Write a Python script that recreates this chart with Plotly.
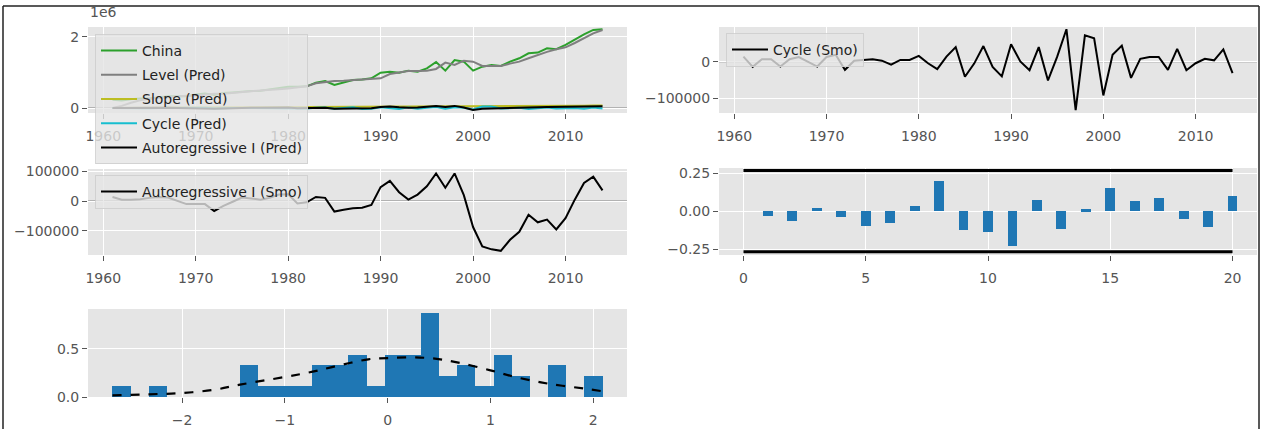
import plotly.graph_objects as go

# ---------------- data ----------------
years = list(range(1961, 2015))

china = [230e3, 215e3, 250e3, 270e3, 265e3, 305e3, 330e3, 330e3, 330e3, 380e3,
         405e3, 370e3, 420e3, 440e3, 470e3, 480e3, 485e3, 520e3, 545e3, 600e3,
         600e3, 610e3, 714e3, 760e3, 648e3, 720e3, 789e3, 800e3, 836e3, 995e3,
         1023e3, 995e3, 1052e3, 1023e3, 1117e3, 1296e3, 1052e3, 1352e3, 1305e3, 1052e3,
         1164e3, 1211e3, 1183e3, 1305e3, 1399e3, 1540e3, 1559e3, 1681e3, 1653e3, 1775e3,
         1934e3, 2075e3, 2197e3, 2216e3]

level_pred = [0, 60e3, 150e3, 220e3, 260e3, 280e3, 310e3, 335e3, 345e3, 350e3,
              380e3, 400e3, 400e3, 430e3, 450e3, 475e3, 490e3, 500e3, 525e3, 550e3,
              590e3, 610e3, 695e3, 730e3, 760e3, 770e3, 789e3, 810e3, 820e3, 836e3,
              958e3, 1000e3, 1042e3, 1045e3, 1052e3, 1100e3, 1277e3, 1211e3, 1333e3, 1305e3,
              1183e3, 1183e3, 1183e3, 1250e3, 1305e3, 1400e3, 1493e3, 1580e3, 1653e3, 1709e3,
              1830e3, 1963e3, 2100e3, 2197e3]

slope_pred = [0, 5e3, 8e3, 10e3, 12e3, 13e3, 14e3, 15e3, 15e3, 16e3,
              17e3, 18e3, 18e3, 19e3, 20e3, 20e3, 21e3, 21e3, 22e3, 23e3,
              23e3, 24e3, 25e3, 26e3, 26e3, 27e3, 27e3, 28e3, 28e3, 29e3,
              30e3, 31e3, 32e3, 33e3, 34e3, 35e3, 36e3, 37e3, 38e3, 39e3,
              40e3, 40e3, 41e3, 42e3, 44e3, 46e3, 49e3, 52e3, 55e3, 58e3,
              62e3, 66e3, 70e3, 74e3]

cycle_pred = [0, -5e3, 4e3, 3e3, -6e3, 4e3, 6e3, 0, -6e3, 6e3,
              9e3, -10e3, 2e3, 3e3, 3e3, 1e3, -4e3, 2e3, 2e3, 8e3,
              -2e3, -10e3, 7e3, 18e3, -19e3, -2e3, 20e3, -25e3, -18e3, 22e3,
              0, -30e3, 18e3, -22e3, 6e3, 30e3, -20e3, 25e3, 10e3, -40e3,
              40e3, 45e3, -15e3, 4e3, 6e3, -25e3, -8e3, 15e3, -10e3, -2e3,
              4e3, -20e3, 15e3, -12e3]

ar_pred = [0, 5e3, 5e3, 6e3, 10e3, 12e3, 11e3, 2e3, -5e3, -6e3,
           -6e3, -20e3, -10e3, 0, 8e3, 7e3, 5e3, 9e3, 16e3, 18e3,
           -4e3, -2e3, 10e3, 9e3, -20e3, -18e3, -14e3, -12e3, -8e3, 30e3,
           45e3, 22e3, 6e3, 16e3, 34e3, 60e3, 32e3, 60e3, 14e3, -55e3,
           -20e3, -10e3, 5e3, 10e3, 15e3, 20e3, 25e3, 28e3, 30e3, 32e3,
           38e3, 45e3, 52e3, 50e3]

cycle_smo = [14e3, -14e3, 7e3, 7e3, -13e3, 7e3, 13e3, 0, -13e3, 13e3,
             19e3, -22e3, 3e3, 5e3, 7e3, 3e3, -8e3, 5e3, 5e3, 16e3,
             -4e3, -20e3, 14e3, 40e3, -41e3, -5e3, 43e3, -14e3, -40e3, 48e3,
             1e3, -23e3, 40e3, -51e3, 14e3, 89e3, -132e3, 72e3, 64e3, -92e3,
             19e3, 44e3, -44e3, 8e3, 13e3, 13e3, -22e3, 35e3, -23e3, -4e3,
             8e3, 4e3, 34e3, -31e3]

ar_smo = [14e3, 5e3, 5e3, 6e3, 11e3, 14e3, 12e3, 0, -10e3, -10e3,
          -10e3, -33e3, -16e3, -2e3, 12e3, 9e3, 5e3, 11e3, 22e3, 23e3,
          -8e3, -4e3, 14e3, 11e3, -35e3, -29e3, -24e3, -22e3, -13e3, 47e3,
          68e3, 30e3, 5e3, 22e3, 50e3, 93e3, 45e3, 93e3, 20e3, -87e3,
          -152e3, -162e3, -167e3, -130e3, -103e3, -46e3, -71e3, -62e3, -95e3, -57e3,
          5e3, 61e3, 82e3, 36e3]

# residual correlogram
acf_lags = list(range(1, 21))
acf_vals = [-0.030, -0.063, 0.017, -0.039, -0.096, -0.078, 0.035, 0.200, -0.126, -0.141,
            -0.230, 0.074, -0.120, 0.011, 0.152, 0.065, 0.089, -0.054, -0.104, 0.096]
acf_conf = 0.267
acf_span = [0, 20]

# histogram of standardized residuals (27 bins)
hist_lo, hist_hi = -2.678, 2.091
hist_counts = [1, 0, 1, 0, 0, 0, 0, 3, 1, 1, 1, 3, 3, 4, 1, 4, 4, 8, 2, 3, 1, 4, 2, 0, 3, 0, 2]
# fitted density curve
dens_x = [-2.678, -2.33, -2.0, -1.68, -1.437, -1.0, -0.73, -0.51, -0.188, 0.0, 0.233,
          0.46, 0.688, 1.0, 1.238, 1.563, 1.92, 2.091]
dens_y = [0.017, 0.028, 0.041, 0.076, 0.128, 0.207, 0.262, 0.317, 0.39, 0.403, 0.41,
          0.397, 0.355, 0.276, 0.207, 0.138, 0.086, 0.059]

# ---------------- layout helpers ----------------
W, H = 1262, 429
BG = "#E5E5E5"
TICK = "#555555"
FONT = "DejaVu Sans"


def xdom(a, b):
    return [a / W, b / W]


def ydom(top, bottom):
    return [1 - bottom / H, 1 - top / H]


fig = go.Figure()

n_bins = len(hist_counts)
bw = (hist_hi - hist_lo) / n_bins
bin_centers = [hist_lo + (i + 0.5) * bw for i in range(n_bins)]
n_obs = sum(hist_counts)
density = [c / (n_obs * bw) for c in hist_counts]

# top-left: observed series with predicted components
series = [
    ("China", china, "#2ca02c"),
    ("Level (Pred)", level_pred, "#7f7f7f"),
    ("Slope (Pred)", slope_pred, "#bcbd22"),
    ("Cycle (Pred)", cycle_pred, "#17becf"),
    ("Autoregressive I (Pred)", ar_pred, "#000000"),
]
for name, vals, col in series:
    fig.add_trace(go.Scatter(x=years, y=vals, mode="lines", name=name,
                             line=dict(color=col, width=2), xaxis="x", yaxis="y",
                             legend="legend", legendgroup=name))

fig.add_trace(go.Scatter(x=years, y=cycle_smo, mode="lines", name="Cycle (Smo)",
                         line=dict(color="black", width=2), xaxis="x2", yaxis="y2",
                         legend="legend2"))

fig.add_trace(go.Scatter(x=years, y=ar_smo, mode="lines", name="Autoregressive I (Smo)",
                         line=dict(color="black", width=2), xaxis="x3", yaxis="y3",
                         legend="legend3"))

fig.add_trace(go.Bar(x=acf_lags, y=acf_vals, width=0.4, marker=dict(color="#1f77b4", line_width=0),
                     xaxis="x4", yaxis="y4", showlegend=False))
for sgn in (1, -1):
    fig.add_trace(go.Scatter(x=acf_span, y=[sgn * acf_conf] * 2, mode="lines",
                             line=dict(color="black", width=3), xaxis="x4", yaxis="y4",
                             showlegend=False))

fig.add_trace(go.Bar(x=bin_centers, y=density, width=bw, marker=dict(color="#1f77b4", line_width=0),
                     xaxis="x5", yaxis="y5", showlegend=False))
fig.add_trace(go.Scatter(x=dens_x, y=dens_y, mode="lines",
                         line=dict(color="black", width=2.2, dash="dash", shape="spline"),
                         xaxis="x5", yaxis="y5", showlegend=False))

ax_common = dict(showgrid=True, gridcolor="white", gridwidth=1.2, zeroline=False,
                 ticks="outside", ticklen=5, tickcolor=TICK, tickwidth=1, automargin=False,
                 tickfont=dict(family=FONT, size=14, color=TICK), showline=False)
xax_common = dict(ax_common, ticklen=5, ticklabelstandoff=5)

year_ticks = [1960, 1970, 1980, 1990, 2000, 2010]
COL_L = (88, 627)
COL_R = (719, 1257)

layout = dict(
    width=W, height=H, autosize=False, margin=dict(l=0, r=0, t=0, b=0, pad=0, autoexpand=False),
    paper_bgcolor="white", plot_bgcolor=BG, bargap=0, barmode="overlay",
    font=dict(family=FONT, size=14, color="#222"),
    xaxis=dict(xax_common, domain=xdom(*COL_L), range=[1958.35, 2016.65], tickvals=year_ticks, anchor="y"),
    yaxis=dict(ax_common, domain=ydom(27, 113), range=[-0.14e6, 2.28e6], tickvals=[0, 2e6],
               ticktext=["0", "2"], anchor="x"),
    xaxis2=dict(xax_common, domain=xdom(*COL_R), range=[1958.35, 2016.65], tickvals=year_ticks, anchor="y2"),
    yaxis2=dict(ax_common, domain=ydom(27, 113), range=[-140e3, 95e3], tickvals=[-100000, 0],
                ticktext=["\u2212100000", "0"], anchor="x2"),
    xaxis3=dict(xax_common, domain=xdom(*COL_L), range=[1958.35, 2016.65], tickvals=year_ticks, anchor="y3"),
    yaxis3=dict(ax_common, domain=ydom(169, 255), range=[-181e3, 108e3], tickvals=[-100000, 0, 100000],
                ticktext=["\u2212100000", "0", "100000"], anchor="x3"),
    xaxis4=dict(xax_common, domain=xdom(*COL_R), range=[-1, 21], tickvals=[0, 5, 10, 15, 20], anchor="y4"),
    yaxis4=dict(ax_common, domain=ydom(168, 255), range=[-0.289, 0.283], tickvals=[-0.25, 0, 0.25],
                ticktext=["\u22120.25", "0.00", "0.25"], anchor="x4"),
    xaxis5=dict(xax_common, domain=xdom(*COL_L), range=[-2.916, 2.329], tickvals=[-2, -1, 0, 1, 2],
                ticktext=["\u22122", "\u22121", "0", "1", "2"], anchor="y5"),
    yaxis5=dict(ax_common, domain=ydom(309, 397), range=[0, 0.91], tickvals=[0, 0.5],
                ticktext=["0.0", "0.5"], anchor="x5"),
)

leg_common = dict(bgcolor="rgba(229,229,229,0.8)", bordercolor="rgba(204,204,204,0.8)", borderwidth=1,
                  font=dict(family=FONT, size=14, color="#222"), xanchor="left", yanchor="top",
                  itemwidth=36)
layout["legend"] = dict(leg_common, x=95 / W, y=1 - 34 / H, tracegroupgap=3)
layout["legend2"] = dict(leg_common, x=726 / W, y=1 - 33 / H)
layout["legend3"] = dict(leg_common, x=95 / W, y=1 - 175 / H)

# zero reference lines
shapes = []
for xr, yr in (("x", "y"), ("x2", "y2"), ("x3", "y3")):
    shapes.append(dict(type="line", xref=f"{xr} domain", yref=yr, x0=0, x1=1, y0=0, y1=0,
                       line=dict(color="#808080", width=1.2), layer="below"))
# outer frame: left, top and right edges
fx0, fx1, fy1 = 3 / W, 1259 / W, 1 - 6 / H
frame = dict(color="#222", width=1.5)
for x0, y0, x1, y1 in ((fx0, 0, fx0, fy1), (fx0, fy1, fx1, fy1), (fx1, 0, fx1, fy1)):
    shapes.append(dict(type="line", xref="paper", yref="paper", x0=x0, y0=y0, x1=x1, y1=y1,
                       line=frame, layer="above"))
layout["shapes"] = shapes

layout["annotations"] = [dict(text="1e6", xref="paper", yref="paper", x=88 / W, y=1 - 12 / H,
                              xanchor="left", yanchor="middle", showarrow=False,
                              font=dict(family=FONT, size=14, color=TICK))]

fig.update_layout(**layout)
fig.write_html("out.html")
